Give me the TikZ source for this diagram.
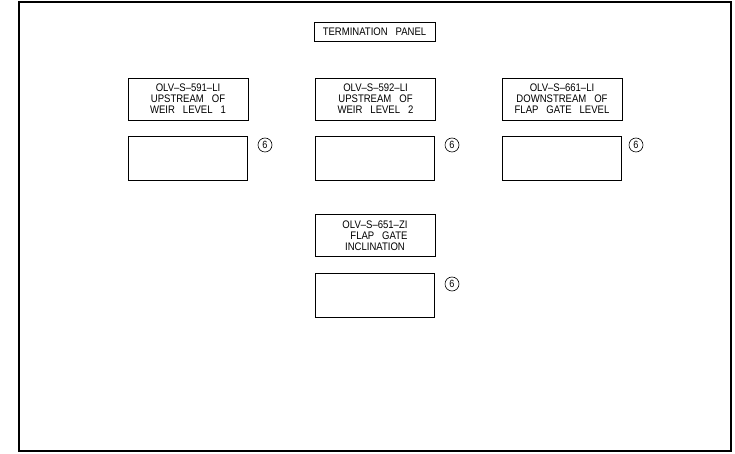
\documentclass[tikz,border=0pt]{standalone}
\usepackage{fontspec}
\setmainfont{Liberation Sans}
\newfontfamily\cadfont[FakeStretch=0.87,Ligatures=TeX]{Liberation Sans}
\usetikzlibrary{positioning}

\begin{document}
\begin{tikzpicture}
[x=1bp,y=-1bp,
  frameDecorate/.style={draw,line width=1.6bp},%
  tagDecorate/.style={shape=rectangle,draw,line width=0.8bp,minimum width=120bp,
    minimum height=42bp,align=center,inner sep=1pt,font=\cadfont\fontsize{11}{11}\selectfont},%
  dispDecorate/.style={shape=rectangle,draw,line width=0.8bp,minimum width=119bp,
    minimum height=44bp,inner sep=0pt},%
  noteDecorate/.style={shape=circle,draw,line width=0.6bp,minimum size=14bp,
    inner sep=0pt,font=\cadfont\fontsize{10.5}{10.5}\selectfont}]
\useasboundingbox (0,0) rectangle (735,454);
%% outer frame
\draw[frameDecorate] (19,2) rectangle (731,451);
%% title
\node (panel) at (374.5,31.5) [shape=rectangle,draw,line width=0.8bp,minimum width=121bp,
  minimum height=19bp,inner sep=1pt,font=\cadfont\fontsize{11}{11}\selectfont] {TERMINATION\ \ \ PANEL};
%% instrument tags
\foreach \nodename/\x/\y/\txt in {
  tag591/188/99/{OLV--S--591--LI\\UPSTREAM\ \ \ OF\\WEIR\ \ \ LEVEL\ \ \ 1},
  tag592/375.5/99/{OLV--S--592--LI\\UPSTREAM\ \ \ OF\\WEIR\ \ \ LEVEL\ \ \ 2},
  tag661/562/99/{OLV--S--661--LI\\DOWNSTREAM\ \ \ OF\\FLAP\ \ \ GATE\ \ \ LEVEL},
  tag651/375/235.5/{OLV--S--651--ZI\\\ \ \ FLAP\ \ \ GATE\\INCLINATION}}
{
  \node (\nodename) at (\x,\y) [tagDecorate] {\txt};
}
%% display windows
\foreach \nodename/\x/\y in {
  disp591/187.5/158, disp592/375/158, disp661/562/158, disp651/375/295}
{
  \node (\nodename) at (\x,\y) [dispDecorate] {};
}
%% note bubbles
\foreach \nodename/\x/\y in {
  note591/265/145, note592/452/145, note661/636/145, note651/452/284}
{
  \node (\nodename) at (\x,\y) [noteDecorate] {6};
}
\end{tikzpicture}
\end{document}
